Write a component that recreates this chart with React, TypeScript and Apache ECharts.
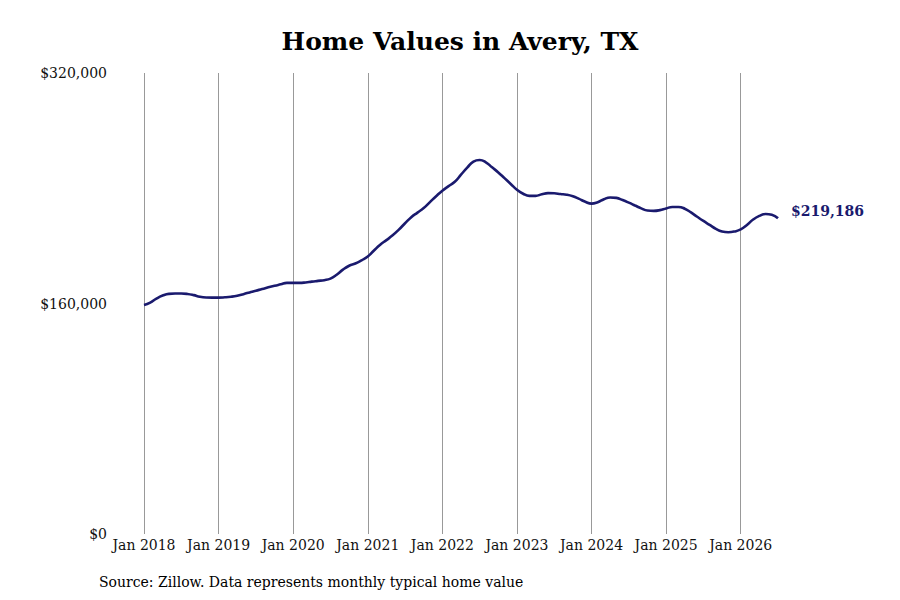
import React, { useEffect, useRef } from "react";
import * as echarts from "echarts";

const startYear = 2018;
const values: number[] = [
  159000, 160600, 163400, 165500, 166700, 166900, 166900, 166600, 165800, 164700, 164200, 164100,
  164100, 164300, 164700, 165400, 166500, 167700, 168900, 170000, 171200, 172300, 173300, 174300,
  174300, 174300, 174600, 175200, 175700, 176200, 177300, 180000, 183500, 186200, 187800, 190000,
  192600, 196800, 200800, 204000, 207300, 211300, 215700, 219900, 223100, 226300, 230400, 234500,
  238300, 241500, 244500, 249400, 254300, 258500, 259600, 258000, 254500, 251000, 247000, 243000,
  239000, 236200, 234700, 234700, 235800, 236600, 236500, 236000, 235500, 234400, 232600, 230600,
  229300, 230300, 232400, 233600, 233300, 231800, 230000, 228000, 226000, 224500, 224300, 224800,
  226000, 227000, 227000, 225800, 223200, 220200, 217300, 214600, 211800, 210000, 209500, 210000,
  211400, 214500, 218300, 220800, 222100, 221600, 219186,
];
const monthNames = ["Jan", "Feb", "Mar", "Apr", "May", "Jun", "Jul", "Aug", "Sep", "Oct", "Nov", "Dec"];
const categories: string[] = values.map((_, i) => `${monthNames[i % 12]} ${startYear + Math.floor(i / 12)}`);
const yTicks = [0, 160000, 320000];
const title = "Home Values in Avery, TX";
const source = "Source: Zillow. Data represents monthly typical home value";

const FONT = "'DejaVu Serif', serif";
const LINE = "#1a1a6e";

const fmt = (v: number) => "$" + Math.round(v).toLocaleString("en-US");

export default function App() {
  const ref = useRef<HTMLDivElement>(null);
  useEffect(() => {
    document.body.style.margin = "0";
    const chart = echarts.init(ref.current!, null, { renderer: "svg" });
    const isJan = (i: number) => i % 12 === 0;
    chart.setOption({
      animation: false,
      backgroundColor: "#ffffff",
      textStyle: { fontFamily: FONT },
      title: {
        text: title,
        left: 455,
        top: 24,
        textAlign: "center",
        textStyle: { fontFamily: FONT, fontSize: 25, fontWeight: "bold", color: "#000" },
      },
      graphic: [
        {
          type: "text",
          left: 99,
          top: 575,
          style: { text: source, font: `14px ${FONT}`, fill: "#000" },
        },
      ],
      grid: { left: 144, right: 122, top: 73, bottom: 66, containLabel: false },
      xAxis: {
        type: "category",
        data: categories,
        boundaryGap: false,
        axisLine: { show: false },
        axisTick: { show: false },
        axisLabel: {
          interval: (i: number) => isJan(i),
          color: "#111",
          fontFamily: FONT,
          fontSize: 14,
          margin: 4,
        },
        splitLine: {
          show: true,
          interval: (i: number) => isJan(i),
          lineStyle: { color: "#999", width: 1 },
        },
      },
      yAxis: {
        type: "value",
        min: yTicks[0],
        max: yTicks[yTicks.length - 1],
        interval: yTicks[1] - yTicks[0],
        axisLine: { show: false },
        axisTick: { show: false },
        splitLine: { show: false },
        axisLabel: {
          formatter: (v: number) => fmt(v),
          color: "#111",
          fontFamily: FONT,
          fontSize: 14,
          margin: 37,
        },
      },
      series: [
        {
          type: "line",
          data: values,
          smooth: true,
          showSymbol: false,
          lineStyle: { color: LINE, width: 2.6 },
          itemStyle: { color: LINE },
          endLabel: {
            show: true,
            formatter: (p: any) => fmt(p.value),
            color: LINE,
            fontFamily: FONT,
            fontSize: 14,
            fontWeight: "bold",
            distance: 13,
            offset: [0, -7],
          },
        },
      ],
    });
    return () => chart.dispose();
  }, []);
  return <div ref={ref} style={{ width: 900, height: 600 }} />;
}
